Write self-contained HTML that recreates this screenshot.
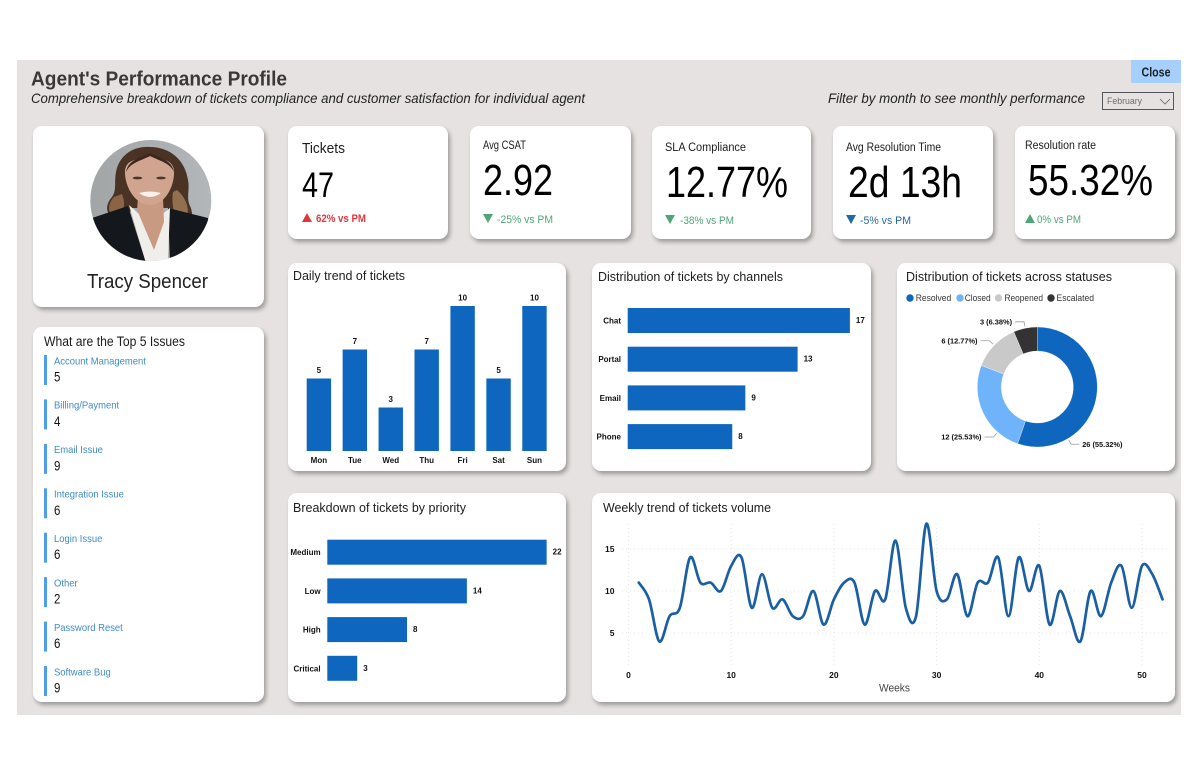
<!DOCTYPE html>
<html lang="en">
<head>
<meta charset="utf-8">
<title>Agent's Performance Profile</title>
<style>
html,body{margin:0;padding:0;background:#fff;}
body{width:1199px;height:776px;position:relative;overflow:hidden;font-family:"Liberation Sans",sans-serif;}
#panel{position:absolute;left:17px;top:60px;width:1164px;height:655px;background:#e6e2e1;}
.card{position:absolute;background:#fff;border-radius:9px;box-shadow:2px 3px 4px rgba(0,0,0,.32);}
.layer{position:absolute;left:0;top:0;}
text{font-family:"Liberation Sans",sans-serif;}
.ttl{font-size:13px;fill:#1c1c1c;}
.lbl{font-size:11.5px;fill:#1c1c1c;}
.val{font-size:44px;fill:#000;}
.dlt{font-size:11px;}
.iss{font-size:10.5px;fill:#3f8cc5;}
.num{font-size:13.5px;fill:#111;}
.tick{font-size:8px;font-weight:bold;fill:#111;}
</style>
</head>
<body>
<div id="panel"></div>

<div class="card" style="left:33px;top:126px;width:231px;height:181px"></div>
<div class="card" style="left:33px;top:327px;width:231px;height:375px"></div>
<div class="card" style="left:288px;top:126px;width:160px;height:113px"></div>
<div class="card" style="left:470px;top:126px;width:161px;height:113px"></div>
<div class="card" style="left:652px;top:126px;width:159px;height:113px"></div>
<div class="card" style="left:833px;top:126px;width:160px;height:113px"></div>
<div class="card" style="left:1015px;top:126px;width:160px;height:113px"></div>
<div class="card" style="left:288px;top:263px;width:278px;height:208px"></div>
<div class="card" style="left:592px;top:263px;width:279px;height:208px"></div>
<div class="card" style="left:897px;top:263px;width:278px;height:208px"></div>
<div class="card" style="left:288px;top:493px;width:278px;height:209px"></div>
<div class="card" style="left:592px;top:493px;width:583px;height:209px"></div>

<svg class="layer" id="stage" width="1199" height="776" viewBox="0 0 1199 776">
  <defs>
    <clipPath id="photoClip"><circle cx="150.8" cy="200.5" r="60.5"/></clipPath>
    <linearGradient id="bgGrad" x1="0" x2="1" y1="0" y2="0"><stop offset="0" stop-color="#a2a5a6"/><stop offset="1" stop-color="#b4b7ba"/></linearGradient>
  </defs>

  <!-- header -->
  <text x="31" y="85.5" font-size="20.5" font-weight="bold" fill="#3b3838" textLength="256" lengthAdjust="spacingAndGlyphs">Agent's Performance Profile</text>
  <text x="31" y="103" font-size="14" font-style="italic" fill="#222" textLength="554" lengthAdjust="spacingAndGlyphs">Comprehensive breakdown of tickets compliance and customer satisfaction for individual agent</text>
  <text x="828" y="103" font-size="14" font-style="italic" fill="#222" textLength="257" lengthAdjust="spacingAndGlyphs">Filter by month to see monthly performance</text>

  <g>
    <rect x="1131" y="60" width="50" height="23" fill="#a6d0fb"/>
    <text x="1156" y="76.5" font-size="13" font-weight="bold" fill="#17212b" text-anchor="middle" textLength="29" lengthAdjust="spacingAndGlyphs">Close</text>
  </g>
  <g>
    <rect x="1102.5" y="92.5" width="71" height="17" fill="none" stroke="#55565a" stroke-width="1"/>
    <text x="1107" y="104" font-size="9" fill="#6d6d6d" textLength="35" lengthAdjust="spacingAndGlyphs">February</text>
    <path d="M1160 99 L1165 104 L1170 99" fill="none" stroke="#666" stroke-width="0.8"/>
  </g>

  <!-- profile -->
  <g clip-path="url(#photoClip)">
    <rect x="88" y="138" width="126" height="126" fill="url(#bgGrad)"/>
    <path d="M150 147 C132 146 119 156 116 172 C114 182 117 190 112 197 C104 206 106 216 116 218 C124 220 130 214 132 208 L170 208 C172 216 176 228 181 232 C190 226 195 216 190 206 C186 198 190 190 188 180 C185 160 170 147 150 147Z" fill="#4a3325"/>
    <path d="M114 197 C106 206 108 215 117 217 C124 214 126 204 122 194Z" fill="#8a6444"/>
    <path d="M177 190 C189 200 192 216 181 230 C175 222 171 204 173 192Z" fill="#93704d"/>
    <path d="M92 218 L128 206 L146 263 L170 263 L168 208 L208 218 L216 272 L86 272Z" fill="#14171c"/>
    <path d="M129 205 L146 263 L168 259 L170 208 L150 224Z" fill="#f0eeea"/>
    <path d="M138 198 L137 210 L154 250 L164 222 L163 198Z" fill="#c89a82"/>
    <path d="M125 170 C127 158 140 160 150 156 C160 160 172 158 174 170 C175 186 165 205 150 205 C135 205 124 186 125 170Z" fill="#d0a48e"/>
    <path d="M126 172 C128 160 140 158 150 153 C160 158 172 160 174 172 C170 163 160 161 150 156 C140 161 130 163 126 172Z" fill="#3b281c"/>
    <ellipse cx="137.5" cy="178" rx="4.8" ry="1.4" fill="#4a372e"/>
    <ellipse cx="161" cy="178" rx="4.8" ry="1.4" fill="#4a372e"/>
    <path d="M139 193 Q150 190 161 193 Q150 201 139 193Z" fill="#f5f1ed"/>
  </g>
  <text x="147.5" y="288" font-size="20" fill="#222" text-anchor="middle" textLength="121" lengthAdjust="spacingAndGlyphs">Tracy Spencer</text>

  <!-- KPI cards -->
  <g>
    <text x="302" y="153" font-size="15" fill="#1c1c1c" textLength="43" lengthAdjust="spacingAndGlyphs">Tickets</text>
    <text x="302" y="197" font-size="35" fill="#000" textLength="32" lengthAdjust="spacingAndGlyphs">47</text>
    <polygon points="302,222 312,222 307,213" fill="#e0383e"/>
    <text x="316" y="222" class="dlt" font-weight="bold" fill="#e0383e" textLength="50" lengthAdjust="spacingAndGlyphs">62% vs PM</text>
  </g>
  <g>
    <text x="483" y="149" class="lbl" textLength="43" lengthAdjust="spacingAndGlyphs">Avg CSAT</text>
    <text x="483" y="195" class="val" textLength="70" lengthAdjust="spacingAndGlyphs">2.92</text>
    <polygon points="483,214 493,214 488,223" fill="#4fa577"/>
    <text x="497" y="223" class="dlt" fill="#4fa577" textLength="56" lengthAdjust="spacingAndGlyphs">-25% vs PM</text>
  </g>
  <g>
    <text x="665" y="151" class="lbl" textLength="81" lengthAdjust="spacingAndGlyphs">SLA Compliance</text>
    <text x="666" y="197" class="val" textLength="122" lengthAdjust="spacingAndGlyphs">12.77%</text>
    <polygon points="665,215 675,215 670,224" fill="#4fa577"/>
    <text x="680" y="224" class="dlt" fill="#4fa577" textLength="54" lengthAdjust="spacingAndGlyphs">-38% vs PM</text>
  </g>
  <g>
    <text x="846" y="151" class="lbl" textLength="95" lengthAdjust="spacingAndGlyphs">Avg Resolution Time</text>
    <text x="848" y="197" class="val" textLength="114" lengthAdjust="spacingAndGlyphs">2d 13h</text>
    <polygon points="846,215 856,215 851,224" fill="#1f69a8"/>
    <text x="860" y="224" class="dlt" fill="#1f69a8" textLength="51" lengthAdjust="spacingAndGlyphs">-5% vs PM</text>
  </g>
  <g>
    <text x="1025" y="149" class="lbl" textLength="71" lengthAdjust="spacingAndGlyphs">Resolution rate</text>
    <text x="1028" y="195" class="val" textLength="125" lengthAdjust="spacingAndGlyphs">55.32%</text>
    <polygon points="1025,223 1035,223 1030,214" fill="#4fa577"/>
    <text x="1037" y="223" class="dlt" fill="#4fa577" textLength="44" lengthAdjust="spacingAndGlyphs">0% vs PM</text>
  </g>

  <!-- top issues -->
  <text x="44" y="346" font-size="13.5" fill="#1c1c1c" textLength="141" lengthAdjust="spacingAndGlyphs">What are the Top 5 Issues</text>
  <g id="issues"></g>

  <!-- chart titles -->
  <text x="293" y="280" class="ttl" textLength="112" lengthAdjust="spacingAndGlyphs">Daily trend of tickets</text>
  <text x="598" y="281" class="ttl" textLength="185" lengthAdjust="spacingAndGlyphs">Distribution of tickets by channels</text>
  <text x="906" y="281" class="ttl" textLength="206" lengthAdjust="spacingAndGlyphs">Distribution of tickets across statuses</text>
  <text x="293" y="512" class="ttl" textLength="173" lengthAdjust="spacingAndGlyphs">Breakdown of tickets by priority</text>
  <text x="603" y="512" class="ttl" textLength="168" lengthAdjust="spacingAndGlyphs">Weekly trend of tickets volume</text>
  <text x="894.5" y="691.5" font-size="11" fill="#444" text-anchor="middle" textLength="31" lengthAdjust="spacingAndGlyphs">Weeks</text>

  <!-- donut legend -->
  <g>
    <g><circle cx="910" cy="298" r="3.7" fill="#0e66bf"/><text x="915.7" y="301" font-size="9.5" fill="#333" textLength="35.5" lengthAdjust="spacingAndGlyphs">Resolved</text></g>
    <g><circle cx="960" cy="298" r="3.7" fill="#6fb4fb"/><text x="964.7" y="301" font-size="9.5" fill="#333" textLength="26" lengthAdjust="spacingAndGlyphs">Closed</text></g>
    <g><circle cx="998.5" cy="298" r="3.7" fill="#c9c9c9"/><text x="1004.5" y="301" font-size="9.5" fill="#333" textLength="38.5" lengthAdjust="spacingAndGlyphs">Reopened</text></g>
    <g><circle cx="1051" cy="298" r="3.7" fill="#333"/><text x="1056.5" y="301" font-size="9.5" fill="#333" textLength="37.5" lengthAdjust="spacingAndGlyphs">Escalated</text></g>
  </g>

  <g id="dailyChart"></g>
  <g id="channelChart"></g>
  <g id="priorityChart"></g>
  <g id="donutChart"></g>
  <g id="weeklyChart"></g>
</svg>

<script>
const issueNames = ["Account Management","Billing/Payment","Email Issue","Integration Issue","Login Issue","Other","Password Reset","Software Bug"];
const issueValues = [5,4,9,6,6,2,6,9];

const dayLabels = ["Mon","Tue","Wed","Thu","Fri","Sat","Sun"];
const dayValues = [5,7,3,7,10,5,10];

const channelLabels = ["Chat","Portal","Email","Phone"];
const channelValues = [17,13,9,8];

const priorityLabels = ["Medium","Low","High","Critical"];
const priorityValues = [22,14,8,3];

const statusLabels = ["Resolved","Closed","Reopened","Escalated"];
const statusValues = [26,12,6,3];
const statusPrintedShares = ["55.32%","25.53%","12.77%","6.38%"];
const statusLeaderFractions = [0.75,0.24,0.5,0.5];

const weekValues = [11,9,4,7,8,14,11,11,10,13,14,8,12,8,9,7,7,10,6,9,11,11,6,10,9,16,8,7,18,10,9,12,7,11,11,14,7,14,10,13,6,10,7,4,10,7,11,13,8,13,12,9];
const weekXTicks = [0,10,20,30,40,50];
const weekYTicks = [5,10,15];

const NS = "http://www.w3.org/2000/svg";
const BAR = "#0e66bf";
function make(parent, tag, attrs, txt){
  const el = document.createElementNS(NS, tag);
  for (const k in attrs) el.setAttribute(k, attrs[k]);
  if (txt !== undefined) el.textContent = txt;
  parent.appendChild(el);
  return el;
}
const slug = s => String(s).toLowerCase().replace(/[^a-z0-9]+/g, "-");
function squeeze(el, factor){
  el.setAttribute("textLength", el.getComputedTextLength() * factor);
  el.setAttribute("lengthAdjust", "spacingAndGlyphs");
}

/* issue list */
(function(){
  const g = document.getElementById("issues");
  issueNames.forEach((name, i) => {
    const top = 355 + i * 44.43;
    const row = make(g, "g", {});
    
    
    make(row, "rect", {x:44, y:top, width:3, height:30, fill:"#4f9fe8"});
    squeeze(make(row, "text", {x:54, y:top+9.3, "class":"iss"}, name), 0.9);
    squeeze(make(row, "text", {x:54, y:top+26.5, "class":"num"}, issueValues[i]), 0.85);
  });
})();

/* daily column chart */
(function(){
  const g = document.getElementById("dailyChart");
  const yScale = v => 451 - v * 14.5;
  const xCenter = i => 318.9 + i * 35.93;
  dayLabels.forEach((d, i) => {
    const bar = make(g, "rect", {x:xCenter(i)-12.2, y:yScale(dayValues[i]), width:24.4, height:451-yScale(dayValues[i]), fill:BAR});
    
    
    make(g, "text", {x:xCenter(i), y:yScale(dayValues[i])-5.5, "class":"tick", "text-anchor":"middle"}, dayValues[i]);
    make(g, "text", {x:xCenter(i), y:463, "class":"tick", "text-anchor":"middle"}, d);
  });
})();

/* horizontal bars */
function hbars(id, labels, values, x0, perUnit, y0){
  const g = document.getElementById(id);
  const xScale = v => x0 + v * perUnit;
  const yTop = i => y0 + i * 38.7;
  labels.forEach((l, i) => {
    const bar = make(g, "rect", {x:x0, y:yTop(i), width:xScale(values[i])-x0, height:25, fill:BAR});
    
    
    make(g, "text", {x:x0-6.7, y:yTop(i)+15.5, "class":"tick", "text-anchor":"end"}, l);
    make(g, "text", {x:xScale(values[i])+6, y:yTop(i)+15, "class":"tick"}, values[i]);
  });
}
hbars("channelChart", channelLabels, channelValues, 627.7, 13.07, 308);
hbars("priorityChart", priorityLabels, priorityValues, 327.3, 9.97, 539.7);

/* donut */
(function(){
  const g = document.getElementById("donutChart");
  const cx = 1037.3, cy = 387, R = 60, r = 36;
  const colors = ["#0e66bf","#6fb4fb","#c9c9c9","#333333"];
  const total = statusValues.reduce((a,b) => a+b, 0);
  const pt = (deg, rad) => [cx + rad*Math.sin(deg*Math.PI/180), cy - rad*Math.cos(deg*Math.PI/180)];
  let a = 0;
  statusValues.forEach((v, i) => {
    const sweep = v / total * 360, b = a + sweep;
    const p1 = pt(a,R), p2 = pt(b,R), p3 = pt(b,r), p4 = pt(a,r);
    const large = sweep > 180 ? 1 : 0;
    const seg = make(g, "path", {d:`M${p1} A${R} ${R} 0 ${large} 1 ${p2} L${p3} A${r} ${r} 0 ${large} 0 ${p4}Z`, fill:colors[i], stroke:"#fff", "stroke-width":0.3});
    
    
    const mid = a + sweep * statusLeaderFractions[i];
    const s = pt(mid, R+1.5), e = pt(mid, R+6.5);
    const right = Math.sin(mid*Math.PI/180) > 0;
    const hx = e[0] + (right ? 8 : -9);
    make(g, "path", {d:`M${s} L${e} L${hx} ${e[1]}`, fill:"none", stroke:"#999", "stroke-width":0.8});
    make(g, "text", {x:hx + (right ? 3 : -3), y:e[1]+2.7, "class":"tick", style:"font-size:7.4px", "text-anchor":right ? "start":"end"}, `${v} (${statusPrintedShares[i]})`);
    a = b;
  });
})();

/* weekly line */
(function(){
  const g = document.getElementById("weeklyChart");
  const xScale = w => 628.5 + w * 10.27;
  const yScale = v => 633 - (v - 5) * 8.4;
  const grid = "#e6e6e6";
  weekXTicks.forEach(t => {
    make(g, "line", {x1:xScale(t), x2:xScale(t), y1:524, y2:666, stroke:grid, "stroke-width":1, "stroke-dasharray":"1 3"});
    make(g, "text", {x:xScale(t), y:678, "class":"tick", style:"font-size:8.5px", "text-anchor":"middle"}, t);
  });
  weekYTicks.forEach(t => {
    make(g, "line", {x1:622, x2:1170, y1:yScale(t), y2:yScale(t), stroke:grid, "stroke-width":1, "stroke-dasharray":"1 3"});
    make(g, "text", {x:614.5, y:yScale(t)+3, "class":"tick", style:"font-size:8.5px", "text-anchor":"end"}, t);
  });
  const pts = weekValues.map((v, i) => [xScale(i+1), yScale(v)]);
  let d = `M${pts[0][0]} ${pts[0][1]}`;
  for (let i = 0; i < pts.length - 1; i++){
    const p0 = pts[Math.max(0,i-1)], p1 = pts[i], p2 = pts[i+1], p3 = pts[Math.min(pts.length-1,i+2)];
    const c1x = p1[0] + (p2[0]-p0[0])/6, c1y = p1[1] + (p2[1]-p0[1])/6;
    const c2x = p2[0] - (p3[0]-p1[0])/6, c2y = p2[1] - (p3[1]-p1[1])/6;
    d += ` C${c1x} ${c1y} ${c2x} ${c2y} ${p2[0]} ${p2[1]}`;
  }
  const line = make(g, "path", {d:d, fill:"none", stroke:"#1a5fa3", "stroke-width":2.7, "stroke-linejoin":"round", "stroke-linecap":"round"});
  
  
})();
</script>
</body>
</html>
